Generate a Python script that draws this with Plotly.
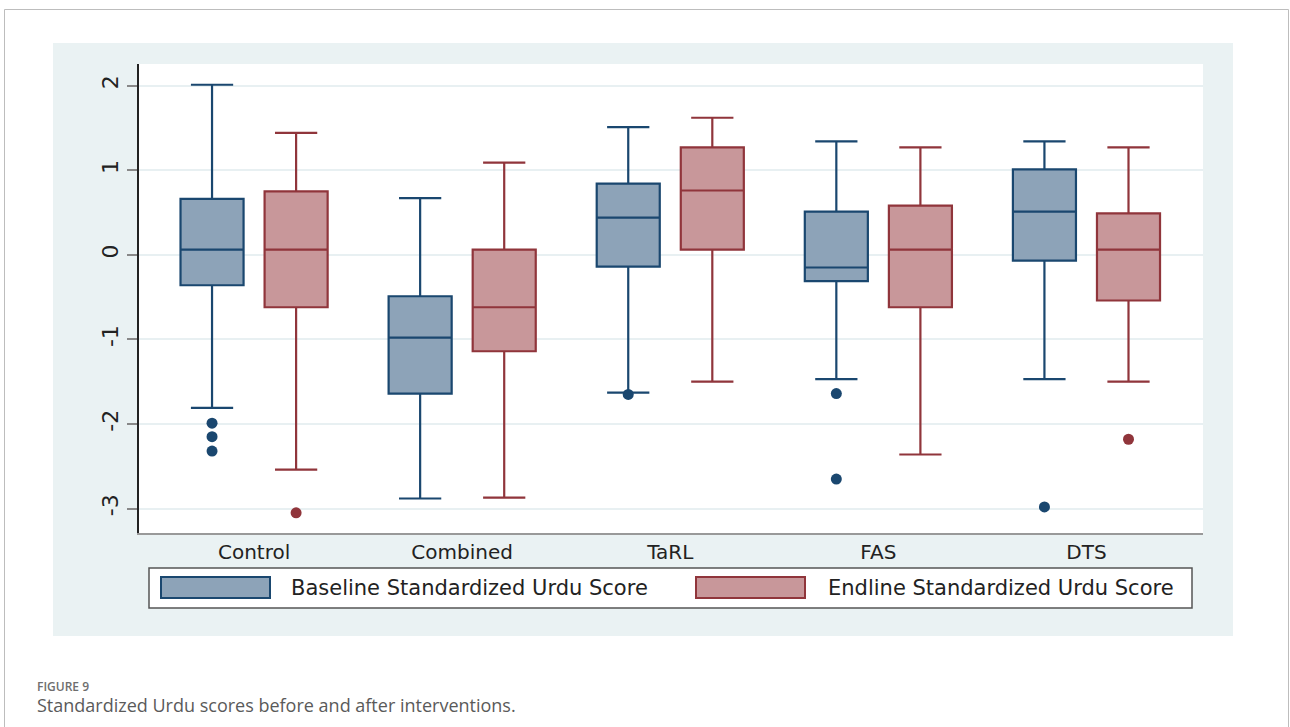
import plotly.graph_objects as go

# ---------------- data ----------------
categories = ["Control", "Combined", "TaRL", "FAS", "DTS"]

base_upper = [2.01, 0.67, 1.51, 1.34, 1.34]
base_q3 = [0.66, -0.49, 0.84, 0.51, 1.01]
base_median = [0.06, -0.98, 0.44, -0.15, 0.51]
base_q1 = [-0.36, -1.64, -0.14, -0.31, -0.07]
base_lower = [-1.81, -2.88, -1.63, -1.47, -1.47]
base_outliers = [[-1.99, -2.15, -2.32], [], [-1.65], [-1.64, -2.65], [-2.98]]

end_upper = [1.44, 1.09, 1.62, 1.27, 1.27]
end_q3 = [0.75, 0.06, 1.27, 0.58, 0.49]
end_median = [0.06, -0.62, 0.76, 0.06, 0.06]
end_q1 = [-0.62, -1.14, 0.06, -0.62, -0.54]
end_lower = [-2.54, -2.87, -1.50, -2.36, -1.50]
end_outliers = [[-3.05], [], [], [], [-2.18]]

series_names = ["Baseline Standardized Urdu Score", "Endline Standardized Urdu Score"]
y_ticks = [-3, -2, -1, 0, 1, 2]

# ---------------- styles ----------------
NAVY = "#1A476F"
NAVY_FILL = "#8DA3B8"
MAROON = "#90353B"
MAROON_FILL = "#C8979A"
REGION = "#EAF2F3"
FONT = "DejaVu Sans"

W, H = 1290, 727
L, R, T, B = 139, 87, 64, 194
PW, PH = W - L - R, H - T - B

def px(x):
    return (x - L) / PW

def py(y):
    return (H - B - y) / PH

OFFSET = 0.202
BOXW = 0.303
pos = list(range(len(categories)))

fig = go.Figure()

specs = [
    (base_q1, base_median, base_q3, base_lower, base_upper, base_outliers, NAVY, NAVY_FILL, -OFFSET, series_names[0]),
    (end_q1, end_median, end_q3, end_lower, end_upper, end_outliers, MAROON, MAROON_FILL, OFFSET, series_names[1]),
]
for q1, med, q3, lo, up, outs, lc, fc, off, name in specs:
    xs = [p + off for p in pos]
    fig.add_trace(go.Box(
        x=xs, q1=q1, median=med, q3=q3, lowerfence=lo, upperfence=up,
        width=BOXW, whiskerwidth=0.67, boxpoints=False,
        line=dict(color=lc, width=2.2), fillcolor=fc, name=name, showlegend=False,
    ))
    ox, oy = [], []
    for p, vals in zip(pos, outs):
        for v in vals:
            ox.append(p + off)
            oy.append(v)
    fig.add_trace(go.Scatter(
        x=ox, y=oy, mode="markers", marker=dict(color=lc, size=11, line=dict(width=0)),
        showlegend=False, hoverinfo="y",
    ))

shapes = [
    # card border
    dict(type="rect", xref="paper", yref="paper", x0=px(4.5), x1=px(1288.5), y0=py(760), y1=py(9.5),
         line=dict(color="#BDBDBD", width=1), fillcolor="rgba(0,0,0,0)", layer="below"),
    # graph region
    dict(type="rect", xref="paper", yref="paper", x0=px(53), x1=px(1233), y0=py(636), y1=py(43),
         line=dict(width=0), fillcolor=REGION, layer="below"),
    # plot region
    dict(type="rect", xref="paper", yref="paper", x0=0, x1=1, y0=0, y1=1,
         line=dict(width=0), fillcolor="white", layer="below"),
    # legend box
    dict(type="rect", xref="paper", yref="paper", x0=px(149), x1=px(1192), y0=py(608), y1=py(568),
         line=dict(color="#555555", width=1.5), fillcolor="white"),
    # legend swatches
    dict(type="rect", xref="paper", yref="paper", x0=px(161), x1=px(270), y0=py(598), y1=py(577),
         line=dict(color=NAVY, width=2), fillcolor=NAVY_FILL),
    dict(type="rect", xref="paper", yref="paper", x0=px(696), x1=px(805), y0=py(598), y1=py(577),
         line=dict(color=MAROON, width=2), fillcolor=MAROON_FILL),
]

annotations = [
    dict(x=px(289), y=py(588), xref="paper", yref="paper", text=series_names[0], showarrow=False,
         xanchor="left", yanchor="middle", font=dict(family=FONT, size=21, color="#222222")),
    dict(x=px(826), y=py(588), xref="paper", yref="paper", text=series_names[1], showarrow=False,
         xanchor="left", yanchor="middle", font=dict(family=FONT, size=21, color="#222222")),
    dict(x=px(35), y=py(686), xref="paper", yref="paper", text="FIGURE 9", showarrow=False,
         xanchor="left", yanchor="middle", font=dict(family="Open Sans", size=12, color="#6E6E6E", weight=600)),
    dict(x=px(35), y=py(705), xref="paper", yref="paper",
         text="Standardized Urdu scores before and after interventions.", showarrow=False,
         xanchor="left", yanchor="middle", font=dict(family="Open Sans", size=18, color="#5A5A5A")),
]

fig.update_layout(
    width=W, height=H,
    margin=dict(l=L, r=R, t=T, b=B, pad=0),
    paper_bgcolor="white", plot_bgcolor="white",
    boxmode="overlay",
    shapes=shapes, annotations=annotations,
    font=dict(family=FONT, color="#222222"),
    xaxis=dict(
        range=[-0.553, 4.56], tickvals=pos, ticktext=categories,
        showgrid=False, zeroline=False, showline=True, linecolor="#999999", linewidth=2,
        ticks="", tickfont=dict(family=FONT, size=20, color="#222222"),
    ),
    yaxis=dict(
        range=[-3.288, 2.255], tickvals=y_ticks,
        ticktext=[str(v) for v in y_ticks],
        showgrid=True, gridcolor="#E8F0F2", gridwidth=1.5, zeroline=False,
        showline=True, linecolor="#222222", linewidth=2,
        ticks="outside", ticklen=10, tickcolor="#888888", tickwidth=1.5,
        tickangle=-90, tickfont=dict(family=FONT, size=22, color="#222222"),
    ),
)

fig.write_html(
    "out.html",
    config={"displayModeBar": False},
    post_script="document.body.style.margin='0';document.body.style.overflow='hidden';",
)
